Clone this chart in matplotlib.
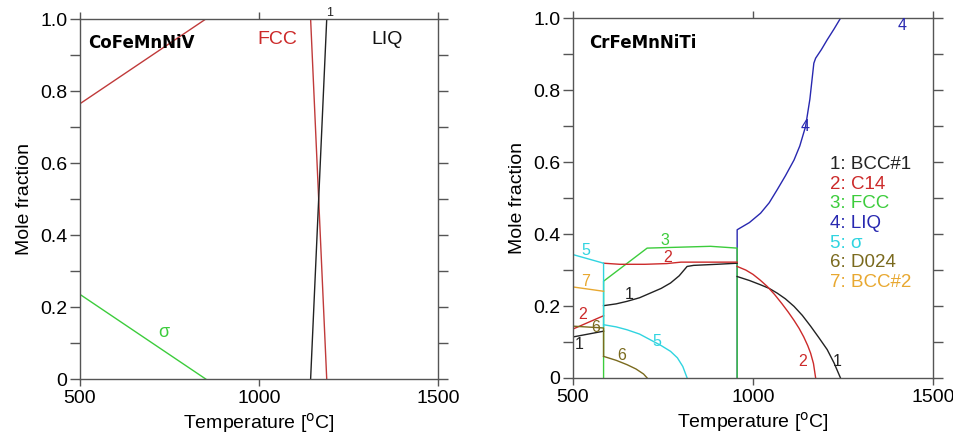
import numpy as np
import matplotlib
matplotlib.use("Agg")
import matplotlib.pyplot as plt

plt.rcParams["font.family"] = ["Liberation Sans", "DejaVu Sans"]

# --- CoFeMnNiV (left panel) ---
fcc_T = [500, 851, 1144, 1189]
fcc_f = [0.765, 1.0, 1.0, 0.0]
liq_T = [1144, 1189]
liq_f = [0.0, 1.0]
sig_T = [500, 851]
sig_f = [0.235, 0.0]

# --- CrFeMnNiTi (right panel) ---
# 1: BCC#1
bcc1_a_T = [500, 585]
bcc1_a_f = [0.114, 0.130]
bcc1_b_T = [585, 620, 650, 685, 715, 745, 771, 795, 817, 835, 900, 956]
bcc1_b_f = [0.201, 0.206, 0.213, 0.223, 0.236, 0.249, 0.264, 0.284, 0.310, 0.313, 0.316, 0.319]
bcc1_c_T = [956, 990, 1021, 1045, 1067, 1090, 1114, 1137, 1160, 1183, 1206, 1225, 1243]
bcc1_c_f = [0.282, 0.271, 0.259, 0.249, 0.236, 0.220, 0.199, 0.174, 0.144, 0.112, 0.079, 0.042, 0.0]
# 2: C14
c14_a_T = [500, 585]
c14_a_f = [0.136, 0.173]
c14_b_T = [585, 630, 700, 760, 800, 850, 956]
c14_b_f = [0.319, 0.316, 0.316, 0.318, 0.322, 0.322, 0.322]
c14_c_T = [956, 980, 1000, 1020, 1040, 1060, 1080, 1098, 1114, 1128, 1141, 1152, 1160, 1168, 1174]
c14_c_f = [0.310, 0.300, 0.288, 0.272, 0.254, 0.232, 0.207, 0.183, 0.160, 0.138, 0.114, 0.090, 0.069, 0.040, 0.0]
# 3: FCC
fcc2_T = [585, 585, 706, 882, 956, 956]
fcc2_f = [0.0, 0.269, 0.361, 0.366, 0.361, 0.0]
# 4: LIQ
liq2_T = [956, 956, 990, 1021, 1045, 1067, 1090, 1114, 1130, 1146, 1158, 1169, 1174, 1190, 1206, 1225, 1243, 1500]
liq2_f = [0.0, 0.412, 0.432, 0.458, 0.487, 0.523, 0.562, 0.606, 0.645, 0.699, 0.775, 0.875, 0.889, 0.913, 0.940, 0.970, 1.0, 1.0]
# 5: sigma
sig2_a_T = [500, 585, 585]
sig2_a_f = [0.343, 0.319, 0.143]
sig2_b_T = [585, 620, 650, 685, 715, 745, 771, 790, 805, 817]
sig2_b_f = [0.148, 0.142, 0.134, 0.122, 0.106, 0.090, 0.074, 0.056, 0.032, 0.0]
# 6: D024
d024_a_T = [500, 585, 585]
d024_a_f = [0.144, 0.139, 0.060]
d024_b_T = [585, 620, 650, 675, 696, 706]
d024_b_f = [0.060, 0.049, 0.037, 0.025, 0.011, 0.0]
# 7: BCC#2
bcc2_T = [500, 585]
bcc2_f = [0.253, 0.241]

legend_labels = ["1: BCC#1", "2: C14", "3: FCC", "4: LIQ", "5: σ", "6: D024", "7: BCC#2"]

c_blk = "#222222"
c_red = "#cc2a2a"
c_grn = "#3ccc3c"
c_blu = "#2828b0"
c_cya = "#30d4e0"
c_olv = "#7a6a1e"
c_org = "#e8a830"
leg_colors = [c_blk, c_red, c_grn, c_blu, c_cya, c_olv, c_org]


def style_axes(ax):
    ax.set_xlim(500, 1500)
    ax.set_ylim(0, 1.0)
    ax.set_xticks([500, 1000, 1500])
    ax.set_xticklabels(["500", "1000", "1500"])
    ax.set_yticks([0, 0.2, 0.4, 0.6, 0.8, 1.0])
    ax.set_yticklabels(["0", "0.2", "0.4", "0.6", "0.8", "1.0"])
    ax.set_yticks([0.1, 0.3, 0.5, 0.7, 0.9], minor=True)
    ax.tick_params(axis="both", which="both", direction="out", top=True, right=True,
                   color="#555555", width=1.0, labelsize=14)
    ax.tick_params(axis="y", which="both", length=7, pad=2)
    ax.tick_params(axis="x", which="both", length=5, pad=3)
    for s in ax.spines.values():
        s.set_color("#555555")
        s.set_linewidth(1.0)
    ax.set_xlabel("Temperature [$^{\\mathrm{o}}$C]", fontsize=14, labelpad=3)
    ax.set_ylabel("Mole fraction", fontsize=14, labelpad=5)


fig = plt.figure(figsize=(9.54, 4.4), dpi=100)
ax1 = fig.add_axes([0.0839, 0.1386, 0.3753, 0.818])
ax2 = fig.add_axes([0.6006, 0.141, 0.3774, 0.8175])

lw = 1.0
ax1.plot(fcc_T, fcc_f, color="#c03a3a", lw=lw)
ax1.plot(liq_T, liq_f, color=c_blk, lw=lw)
ax1.plot(sig_T, sig_f, color=c_grn, lw=lw)
ax1.text(522, 0.933, "CoFeMnNiV", family="DejaVu Sans", fontweight="bold",
         fontsize=12, va="center", ha="left")
ax1.text(1052, 0.944, "FCC", color=c_red, fontsize=14, ha="center", va="center")
ax1.text(1357, 0.944, "LIQ", color="#111111", fontsize=14, ha="center", va="center")
ax1.text(1197, 1.0, "1", color=c_blk, fontsize=9, ha="center", va="bottom")
ax1.text(735, 0.128, "σ", color=c_grn, fontsize=13, ha="center", va="center")
style_axes(ax1)

ax2.plot(liq2_T, liq2_f, color=c_blu, lw=lw)
ax2.plot(fcc2_T, fcc2_f, color=c_grn, lw=lw)
ax2.plot(bcc1_a_T, bcc1_a_f, color=c_blk, lw=lw)
ax2.plot(bcc1_b_T, bcc1_b_f, color=c_blk, lw=lw)
ax2.plot(bcc1_c_T, bcc1_c_f, color=c_blk, lw=lw)
ax2.plot(c14_a_T, c14_a_f, color=c_red, lw=lw)
ax2.plot(c14_b_T, c14_b_f, color=c_red, lw=lw)
ax2.plot(c14_c_T, c14_c_f, color=c_red, lw=lw)
ax2.plot(d024_a_T, d024_a_f, color=c_olv, lw=lw)
ax2.plot(d024_b_T, d024_b_f, color=c_olv, lw=lw)
ax2.plot(sig2_a_T, sig2_a_f, color=c_cya, lw=lw)
ax2.plot(sig2_b_T, sig2_b_f, color=c_cya, lw=lw)
ax2.plot(bcc2_T, bcc2_f, color=c_org, lw=lw)

lab_fs = 11.5
curve_labels = [
    (516, 0.093, "1", c_blk), (655, 0.231, "1", c_blk), (1234, 0.046, "1", c_blk),
    (528, 0.176, "2", c_red), (764, 0.335, "2", c_red), (1137, 0.046, "2", c_red),
    (755, 0.382, "3", c_grn),
    (1146, 0.700, "4", c_blu), (1415, 0.981, "4", c_blu),
    (536, 0.355, "5", c_cya), (734, 0.102, "5", c_cya),
    (562, 0.139, "6", c_olv), (634, 0.062, "6", c_olv),
    (536, 0.269, "7", c_org),
]
for t, f, s, c in curve_labels:
    ax2.text(t, f, s, color=c, fontsize=lab_fs, ha="center", va="center")

ax2.text(544, 0.93, "CrFeMnNiTi", family="DejaVu Sans", fontweight="bold",
         fontsize=12, va="center", ha="left")
for i, (s, c) in enumerate(zip(legend_labels, leg_colors)):
    ax2.text(1215, 0.593 - i * 0.0545, s, color=c, fontsize=13.5, ha="left", va="center")
style_axes(ax2)

fig.savefig("out.png", dpi=100)
